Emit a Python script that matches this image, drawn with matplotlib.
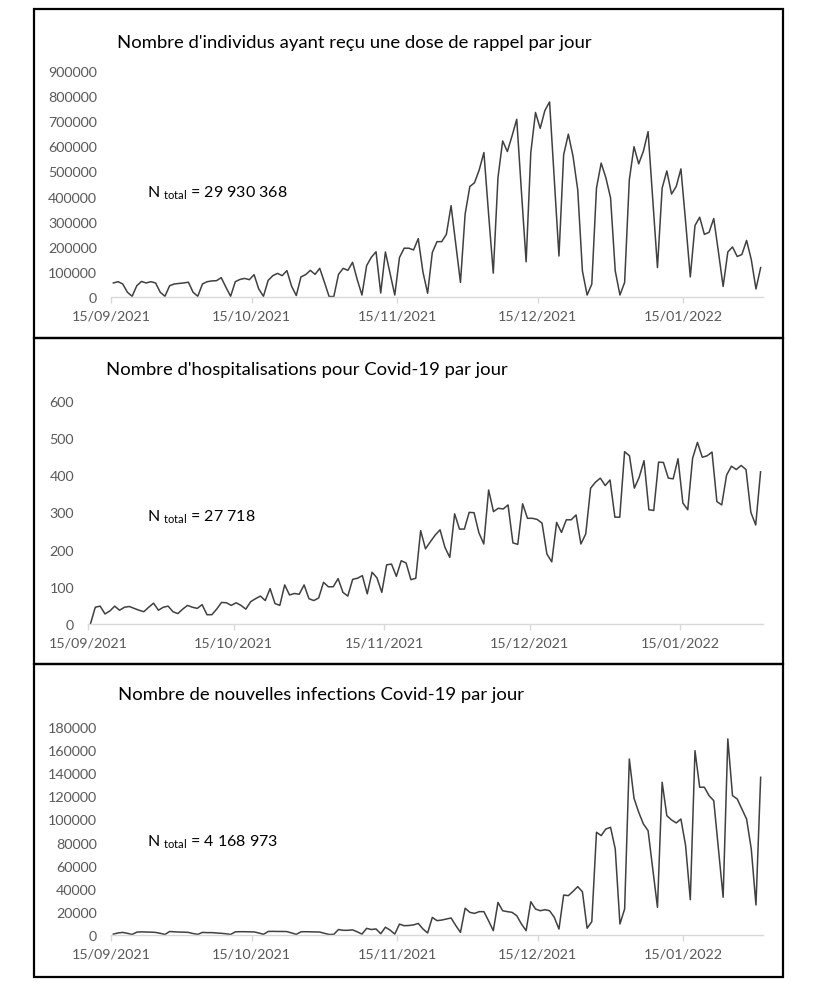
import numpy as np
import pandas as pd
import matplotlib.pyplot as plt
from matplotlib.patches import Rectangle
from matplotlib.ticker import MultipleLocator, FuncFormatter

plt.rcParams['font.family'] = ['Lato', 'DejaVu Sans']
plt.rcParams['mathtext.fontset'] = 'custom'
plt.rcParams['mathtext.rm'] = 'Lato'

# daily series, 15/09/2021 -> 31/01/2022
dates = pd.date_range('2021-09-15', '2022-01-31', freq='D')

rappel = [57000, 62000, 53000, 20000, 4000,
          46000, 63000, 57000, 62000, 57000, 20000, 4000,
          46000, 53000, 55000, 57000, 60000, 20000, 4000,
          53000, 62000, 65000, 66000, 78000, 40000, 4000,
          62000, 71000, 75000, 70000, 90000, 33000, 4000,
          67000, 86000, 95000, 86000, 106000, 44000, 7000,
          81000, 90000, 107000, 91000, 115000, 60000, 3000,
          3000, 91000, 115000, 107000, 139000, 70000, 9000,
          126000, 159000, 181000, 17000, 180000, 95000, 9000,
          158000, 195000, 195000, 188000, 233000, 101000, 16000,
          178000, 221000, 221000, 250000, 364000, 210000, 59000,
          331000, 440000, 455000, 506000, 575000, 330000, 96000,
          476000, 621000, 579000, 641000, 707000, 420000, 141000,
          575000, 734000, 671000, 742000, 776000, 470000, 164000,
          566000, 648000, 560000, 427000, 105000, 9000, 52000,
          434000, 533000, 475000, 395000, 105000, 9000, 59000,
          467000, 598000, 530000, 580000, 658000, 390000, 118000,
          434000, 502000, 410000, 440000, 510000, 300000, 81000,
          285000, 318000, 250000, 258000, 313000, 180000, 43000,
          180000, 200000, 162000, 170000, 226000, 150000, 33000,
          118000]

hospit = [0, 45, 48, 27, 35, 48, 37, 45, 47, 42, 37, 33, 45, 56, 37,
          45, 48, 33, 28, 40, 50, 45, 42, 52, 25, 25, 40, 58, 57, 50,
          57, 50, 40, 60, 68, 75, 63, 95, 55, 50, 105, 78, 82, 80, 105,
          68, 63, 70, 112, 100, 100, 122, 85, 75, 120,
          123, 130, 81, 139, 124, 85, 159, 161, 128, 170, 164, 119, 123, 251,
          202, 221, 239, 253, 206, 179, 296, 255, 255, 300, 299, 245, 215, 360,
          302, 311, 309, 320, 218, 214, 323, 284, 284, 281, 271, 188, 167, 273,
          246, 280, 280, 293, 215, 242, 365, 381, 392, 372, 387, 287, 287, 463,
          452, 365, 394, 439, 307, 305, 435, 434, 392, 390, 444, 325, 307, 445,
          488, 448, 452, 462, 329, 320, 400, 424, 415, 426, 415, 300, 266, 409]

infect = [500, 1500, 2000, 1200, 200,
          2200, 2500, 2300, 2200, 2000, 1200, 200,
          2800, 2500, 2300, 2200, 2000, 1000, 300,
          2000, 1800, 1800, 1500, 1200, 800, 200,
          2500, 2600, 2600, 2500, 2400, 1500, 300,
          2800, 2900, 2800, 2800, 2700, 1500, 300,
          2500, 2600, 2500, 2400, 2300, 1200, 200,
          300, 4500, 3800, 3800, 4200, 2500, 500,
          5500, 4500, 5000, 800, 6500, 4000, 500,
          9200, 7800, 8000, 8500, 9800, 5000, 1500,
          15000, 12200, 12700, 13600, 14500, 8000, 2000,
          23000, 19400, 18500, 20000, 20000, 12000, 3500,
          28000, 20800, 20000, 19400, 16500, 9300, 3500,
          28600, 22300, 20800, 21700, 20800, 15100, 4900,
          34400, 33900, 37600, 41700, 37300, 5600, 11300,
          88900, 86000, 91700, 93200, 74400, 9300, 22300,
          152500, 118400, 106300, 96100, 90300, 57000, 23800,
          132300, 103300, 99600, 97000, 100400, 77300, 30400,
          159700, 128000, 128000, 120700, 116300, 74400, 32500,
          169900, 120700, 117800, 109100, 100400, 74400, 25800,
          136600]

titles = ["Nombre d'individus ayant reçu une dose de rappel par jour",
          "Nombre d'hospitalisations pour Covid-19 par jour",
          "Nombre de nouvelles infections Covid-19 par jour"]
totals = ['29 930 368', '27 718', '4 168 973']
ymax = [900000, 600, 180000]
ystep = [100000, 100, 20000]

tick_dates = pd.to_datetime(['2021-09-15', '2021-10-15', '2021-11-15',
                             '2021-12-15', '2022-01-15'])
tick_labels = ['15/09/2021', '15/10/2021', '15/11/2021', '15/12/2021', '15/01/2022']

W, H = 814, 987
fig = plt.figure(figsize=(W / 100, H / 100), dpi=100)

def frac(x0, y0, x1, y1):
    return [x0 / W, 1 - y1 / H, (x1 - x0) / W, (y1 - y0) / H]

# pixel layout of each panel
boxes = [(9.5, 339), (339, 665), (665, 978)]
axboxes = [(111, 71.7, 763, 298.3), (88, 401.7, 763, 625), (111, 728.3, 763, 935.7)]
title_pos = [(117, 42.7), (105.5, 370), (117.7, 695)]
ntot_y = [192.7, 516.7, 841.7]

for i, vals in enumerate([rappel, hospit, infect]):
    b0, b1 = boxes[i]
    fig.add_artist(Rectangle((34 / W, 1 - b1 / H), (783 - 34) / W, (b1 - b0) / H,
                             transform=fig.transFigure, fill=False,
                             ec='black', lw=1.6))
    ax = fig.add_axes(frac(*axboxes[i]))
    ax.set_facecolor('none')
    ax.plot(dates + pd.Timedelta(hours=12), vals, color='#404040', lw=1.1)
    ax.set_xlim(dates[0], dates[-1] + pd.Timedelta(days=1))
    ax.set_ylim(0, ymax[i])
    ax.yaxis.set_major_locator(MultipleLocator(ystep[i]))
    ax.yaxis.set_major_formatter(FuncFormatter(lambda v, p: f'{v:.0f}'))
    ax.set_xticks(tick_dates)
    ax.set_xticklabels(tick_labels)
    for s in ['top', 'right', 'left']:
        ax.spines[s].set_visible(False)
    ax.spines['bottom'].set_color('#d9d9d9')
    ax.spines['bottom'].set_linewidth(1.0)
    ax.tick_params(axis='y', length=0, pad=10, labelsize=10.3, labelcolor='#595959')
    ax.tick_params(axis='x', length=4, width=1, color='#d9d9d9', pad=5,
                   labelsize=10.3, labelcolor='#595959')

    tx, ty = title_pos[i]
    fig.text(tx / W, 1 - ty / H, titles[i], fontsize=13.3, va='center', ha='left')
    fig.text(147 / W, 1 - ntot_y[i] / H,
             r'N $_{\mathrm{total}}$ = ' + totals[i],
             fontsize=11.5, va='center', ha='left')

fig.savefig('out.png', dpi=100)
